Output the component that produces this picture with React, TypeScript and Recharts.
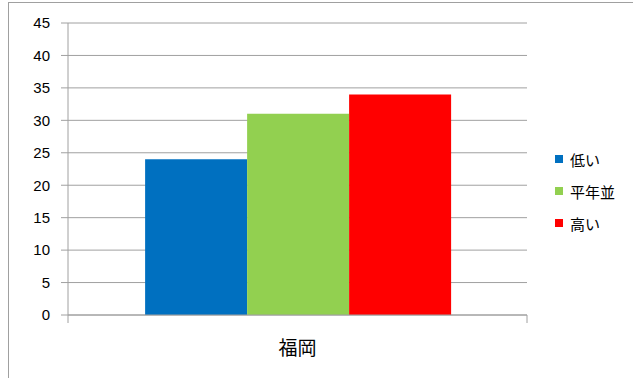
import { BarChart, Bar, XAxis, YAxis, CartesianGrid } from 'recharts';

const categories = ['福岡'];
const seriesNames = ['低い', '平年並', '高い'];
const seriesValues = [[24], [31], [34]];
const seriesColors = ['#0070C0', '#92D050', '#FF0000'];
const yTicks = [0, 5, 10, 15, 20, 25, 30, 35, 40, 45];

const W = 633;
const H = 378;
const LEFT = 68;
const RIGHT = 106;
const TOP = 23;
const BOTTOM = 63;
const plotW = W - LEFT - RIGHT;

const data = categories.map((name, i) => {
  const row: any = { name };
  seriesNames.forEach((s, j) => {
    row[s] = seriesValues[j][i];
  });
  return row;
});

const CategoryTick = (props: any) => {
  const { x, y, payload } = props;
  const half = plotW / categories.length / 2;
  return (
    <g>
      <line x1={x - half} y1={y - 8} x2={x - half} y2={y} stroke="#a0a0a0" />
      <line x1={x + half} y1={y - 8} x2={x + half} y2={y} stroke="#a0a0a0" />
      <text
        x={x}
        y={y + 32}
        textAnchor="middle"
        fontSize={19}
        fill="#000"
        fontFamily="'Noto Sans CJK JP', sans-serif"
      >
        {payload.value}
      </text>
    </g>
  );
};

export default function App() {
  return (
    <div style={{ position: 'absolute', left: 0, top: 0, width: W, height: H, background: '#fff' }}>
      <div
        style={{
          position: 'absolute',
          left: 8,
          top: 2,
          width: W - 8,
          height: H - 2,
          borderTop: '1px solid #a0a0a0',
          borderLeft: '1px solid #a0a0a0',
        }}
      />
      <BarChart
        width={W}
        height={H}
        data={data}
        margin={{ top: TOP, right: RIGHT, left: 0, bottom: 0 }}
        barGap={0}
        barCategoryGap="16.8%"
      >
        <CartesianGrid vertical={false} stroke="#a0a0a0" />
        <XAxis
          dataKey="name"
          height={BOTTOM}
          axisLine={{ stroke: '#a0a0a0' }}
          tickLine={false}
          tick={<CategoryTick />}
        />
        <YAxis
          width={LEFT}
          domain={[0, 45]}
          ticks={yTicks}
          interval={0}
          axisLine={{ stroke: '#a0a0a0' }}
          tickLine={{ stroke: '#a0a0a0' }}
          tickSize={7}
          tickMargin={11}
          tick={{ fill: '#000', fontSize: 15, fontFamily: "'Liberation Sans', sans-serif" }}
        />
        {seriesNames.map((s, j) => (
          <Bar key={s} dataKey={s} fill={seriesColors[j]} isAnimationActive={false} />
        ))}
      </BarChart>
      <div style={{ position: 'absolute', left: 555, top: 143 }}>
        {seriesNames.map((s, j) => (
          <div
            key={s}
            style={{
              display: 'flex',
              alignItems: 'center',
              height: 32,
              fontSize: 15,
              fontFamily: "'Noto Sans CJK JP', sans-serif",
              color: '#000',
            }}
          >
            <span style={{ width: 8, height: 8, background: seriesColors[j], marginRight: 7 }} />
            <span>{s}</span>
          </div>
        ))}
      </div>
    </div>
  );
}
